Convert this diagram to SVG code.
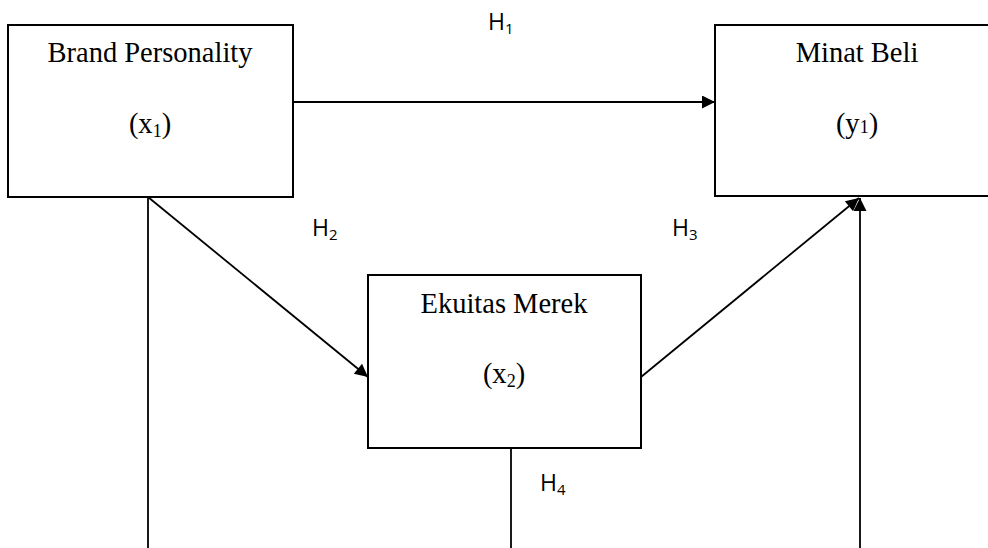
<svg xmlns="http://www.w3.org/2000/svg" width="988" height="548" viewBox="0 0 988 548">
<style>
.box{fill:#fff;stroke:#000;stroke-width:2}
.t{font-family:"Liberation Serif","Times New Roman",serif;font-size:28.5px;fill:#000;text-anchor:middle}
.h{font-family:"Open Sans","Liberation Sans",sans-serif;font-size:23px;fill:#000}
.c{fill:none;stroke:#000;stroke-width:1.8}
</style>
<defs>
<marker id="ah" viewBox="0 0 10 10" refX="10" refY="5" markerWidth="17" markerHeight="13" markerUnits="userSpaceOnUse" orient="auto">
<path d="M0,0 L10,5 L0,10 Z" fill="#000"/>
</marker>
</defs>
<g id="connectors">
<line class="c" x1="293" y1="102" x2="715" y2="102" marker-end="url(#ah)"/>
<line class="c" x1="148" y1="197" x2="368" y2="377" marker-end="url(#ah)"/>
<line class="c" x1="641" y1="377" x2="859" y2="198" marker-end="url(#ah)"/>
<line class="c" x1="860" y1="548" x2="860" y2="198" marker-end="url(#ah)"/>
<line class="c" x1="148" y1="197" x2="148" y2="548"/>
<line class="c" x1="511" y1="448" x2="511" y2="548"/>
</g>
<g id="brand">
<rect class="box" x="8" y="25" width="285" height="172"/>
<text class="t" x="150" y="62">Brand Personality</text>
<text class="t" x="150" y="133">(x<tspan font-size="18" dy="4">1</tspan><tspan dy="-4">)</tspan></text>
</g>
<g id="minat">
<rect class="box" x="715" y="25" width="290" height="171"/>
<text class="t" x="857" y="62">Minat Beli</text>
<text class="t" x="857" y="133">(y<tspan font-size="18">1</tspan>)</text>
</g>
<g id="ekuitas">
<rect class="box" x="368" y="275" width="273" height="173"/>
<text class="t" x="504" y="313">Ekuitas Merek</text>
<text class="t" x="504" y="383">(x<tspan font-size="18" dy="4">2</tspan><tspan dy="-4">)</tspan></text>
</g>
<g id="labels">
<text class="h" x="488" y="30">H<tspan font-size="15" dy="4">1</tspan></text>
<text class="h" x="312" y="236">H<tspan font-size="15" dy="4">2</tspan></text>
<text class="h" x="672" y="236">H<tspan font-size="15" dy="4">3</tspan></text>
<text class="h" x="540" y="491">H<tspan font-size="15" dy="4">4</tspan></text>
</g>
</svg>
